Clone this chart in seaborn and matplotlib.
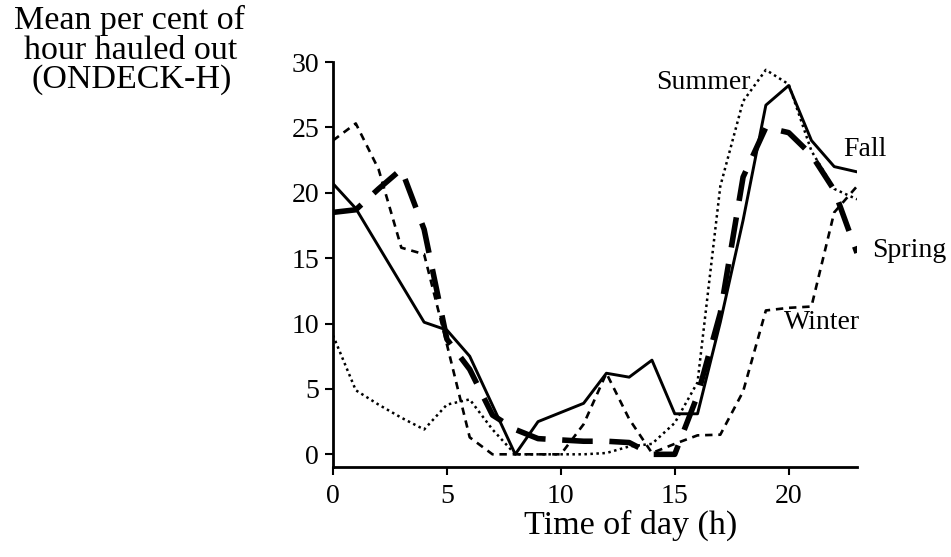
import numpy as np
import pandas as pd
import matplotlib
matplotlib.use("Agg")
import matplotlib.pyplot as plt
import seaborn as sns

hours = list(range(24))
summer = [9.1, 4.9, 3.8, 2.8, 1.9, 3.8, 4.2, 1.9, 0.0, 0.0, 0.0, 0.0,
          0.1, 0.6, 0.8, 2.4, 5.5, 20.5, 27.0, 29.4, 28.3, 23.2, 20.3, 19.5]
fall = [20.7, 18.8, 15.9, 13.0, 10.1, 9.5, 7.5, 3.75, 0.0, 2.5, 3.2, 3.9,
        6.2, 5.9, 7.2, 3.1, 3.1, 10.1, 17.9, 26.7, 28.2, 24.0, 22.0, 21.6]
spring = [18.5, 18.7, 20.3, 21.8, 17.2, 8.8, 6.5, 3.0, 1.9, 1.2, 1.1, 1.0,
          1.0, 0.9, 0.0, 0.0, 4.5, 10.8, 21.2, 25.0, 24.6, 22.9, 20.2, 15.4]
winter = [24.0, 25.3, 21.8, 15.8, 15.3, 8.4, 1.3, 0.0, 0.0, 0.0, 0.0, 2.3,
          6.2, 2.7, 0.1, 0.8, 1.45, 1.5, 4.8, 11.0, 11.2, 11.3, 18.5, 20.5]

season_names = ["Summer", "Fall", "Spring", "Winter"]
x_ticks = [0, 5, 10, 15, 20]
y_ticks = [0, 5, 10, 15, 20, 25, 30]
ylabel_lines = ["Mean per cent of", "hour hauled out", "(ONDECK-H)"]

df = pd.DataFrame({
    "hour": hours * 4,
    "value": summer + fall + spring + winter,
    "season": [s for s in season_names for _ in hours],
})

sns.set_style("ticks")
plt.rcParams["font.family"] = ["Liberation Serif", "DejaVu Serif"]

W, H = 951, 557
fig = plt.figure(figsize=(W / 100, H / 100), dpi=100)
ax = fig.add_axes([333 / W, 1 - 467 / H, (857 - 333) / W, (467 - 62) / H])

styles = {
    "Summer": dict(lw=1.8, linestyle=(0, (1.0, 1.4))),
    "Fall": dict(lw=2.1, linestyle="-"),
    "Spring": dict(lw=4.0, linestyle=(0, (5.5, 3.0))),
    "Winter": dict(lw=1.9, linestyle=(0, (2.8, 2.2))),
}
for s in season_names:
    sub = df[df["season"] == s]
    sns.lineplot(data=sub, x="hour", y="value", ax=ax, color="black",
                 estimator=None, legend=False, **styles[s])

ax.set_xlim(0, 23)
ax.set_ylim(-0.97, 30)
ax.set_xticks(x_ticks)
ax.set_yticks(y_ticks)
ax.tick_params(axis="both", labelsize=20, length=6, width=1.5, pad=4,
               colors="black", direction="out")
ax.tick_params(axis="x", pad=6)
sns.despine(ax=ax)
for sp in ["left", "bottom"]:
    ax.spines[sp].set_linewidth(2.0)
    ax.spines[sp].set_color("black")
ax.set_xlabel("")
ax.set_ylabel("")

lab_kw = dict(fontsize=20, color="black", va="center", ha="left")
ax.text(14.2, 28.4, "Summer", **lab_kw)
ax.text(22.4, 23.3, "Fall", **lab_kw)
ax.text(23.66, 15.6, "Spring", clip_on=False, **lab_kw)
ax.text(19.8, 10.1, "Winter", **lab_kw)

fig.text(631 / W, 1 - 525 / H, "Time of day (h)", fontsize=24.5,
         ha="center", va="center", color="black")

# three-line y label, placed as in the reference
yl_kw = dict(fontsize=24.5, va="center", color="black")
fig.text(14 / W, 1 - 20 / H, ylabel_lines[0], ha="left", **yl_kw)
fig.text(24 / W, 1 - 51 / H, ylabel_lines[1], ha="left", **yl_kw)
fig.text(232 / W, 1 - 80 / H, ylabel_lines[2], ha="right", **yl_kw)

fig.savefig("out.png", dpi=100, facecolor="white")
